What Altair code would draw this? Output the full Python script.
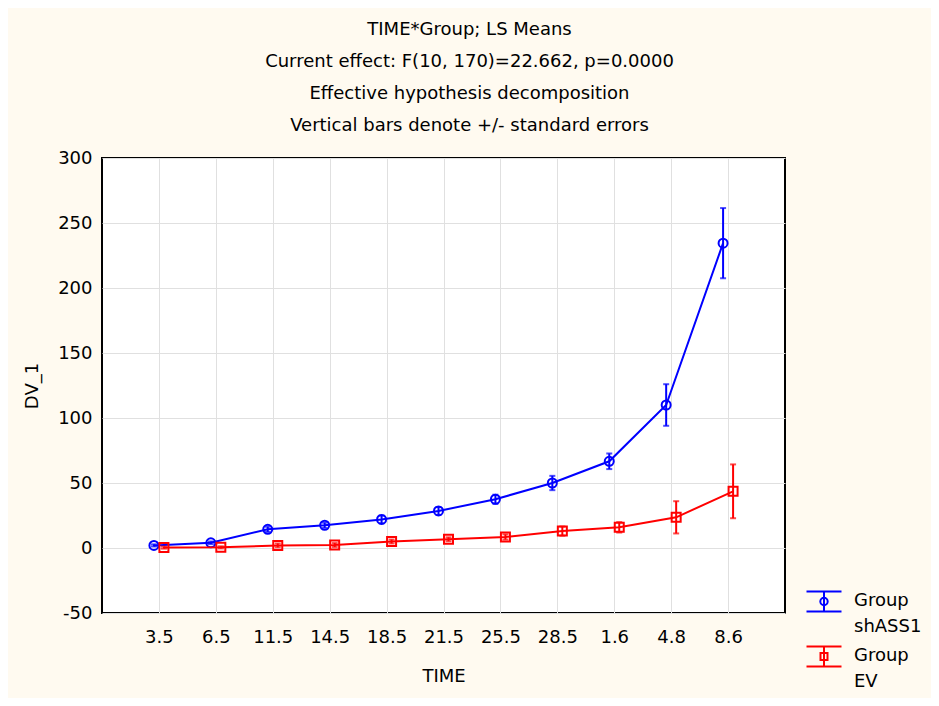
import altair as alt
import pandas as pd

times = ["3.5", "6.5", "11.5", "14.5", "18.5", "21.5", "25.5", "28.5", "1.6", "4.8", "8.6"]
sh_mean = [2, 4, 14.4, 17.5, 22, 28.5, 37.5, 50, 66.7, 110, 234.5]
sh_se = [0.8, 1, 2, 2, 3, 3, 3.5, 5.5, 6, 16, 27]
ev_mean = [0.3, 0.5, 2, 2.3, 5, 6.7, 8.5, 13, 15.9, 23.6, 43.6]
ev_se = [0.8, 0.8, 1.5, 1.5, 1.5, 1.5, 2, 3.5, 4, 12.4, 20.7]
groups = ["Group shASS1", "Group EV"]
colors = ["#0000FF", "#FF0000"]

rows = []
for g, means, ses in [(groups[0], sh_mean, sh_se), (groups[1], ev_mean, ev_se)]:
    for t, m, s in zip(times, means, ses):
        rows.append({"TIME": t, "Group": g, "mean": m, "lo": m - s, "hi": m + s})
df = pd.DataFrame(rows)

FONT = "DejaVu Sans"
FS = 18
xenc = alt.X("TIME:N", sort=times, scale=alt.Scale(type="point", padding=1),
             axis=alt.Axis(title="TIME", labelAngle=0, labelFontSize=FS, titleFontSize=FS,
                           titleFontWeight="normal", labelPadding=15, titlePadding=21,
                           ticks=False, domain=False, gridColor="#E0E0E0", grid=True,
                           labelColor="black", titleColor="black"))
yscale = alt.Scale(domain=[-50, 300], nice=False, zero=False)
yaxis = alt.Axis(title="DV_1", values=list(range(-50, 301, 50)), labelFontSize=FS,
                 labelExpr="datum.value < 0 ? '-' + abs(datum.value) : datum.label",
                 titleFontSize=FS, titleFontWeight="normal", labelPadding=10, titlePadding=16,
                 ticks=False, domain=False, gridColor="#E0E0E0", labelColor="black",
                 titleColor="black")

base = alt.Chart(df)
layers = []
for g, col, shp, off in [(groups[0], colors[0], "circle", -5), (groups[1], colors[1], "square", 5)]:
    b = base.transform_filter(alt.datum.Group == g)
    layers.append(b.mark_line(color=col, strokeWidth=2, xOffset=off).encode(
        x=xenc, y=alt.Y("mean:Q", scale=yscale, axis=yaxis)))
    layers.append(b.mark_rule(color=col, strokeWidth=2, xOffset=off).encode(
        x=xenc, y="lo:Q", y2="hi:Q"))
    layers.append(b.mark_tick(color=col, size=6, thickness=2, xOffset=off).encode(x=xenc, y="lo:Q"))
    layers.append(b.mark_tick(color=col, size=6, thickness=2, xOffset=off).encode(x=xenc, y="hi:Q"))
    layers.append(b.mark_point(color=col, shape=shp, size=81, strokeWidth=2, filled=False,
                               opacity=1, xOffset=off).encode(x=xenc, y="mean:Q"))

# legend glyphs: error-bar style symbol, shifted down to line up with the first label line
circ_sym = ("M-1.75,-0.05H1.75M-1.75,1.95H1.75M0,-0.05V1.95"
            "M0.37,0.95A0.37,0.37,0,1,1,-0.37,0.95A0.37,0.37,0,1,1,0.37,0.95")
sq_sym = "M-1.75,-0.05H1.75M-1.75,1.95H1.75M0,-0.05V1.95M-0.35,0.6H0.35V1.3H-0.35Z"

legend_layer = base.transform_filter("false").mark_point(filled=False, strokeWidth=2, opacity=1).encode(
    x=xenc,
    y="mean:Q",
    color=alt.Color("Group:N", scale=alt.Scale(domain=groups, range=colors),
                    legend=alt.Legend(orient="none", legendX=711, legendY=423, title=None,
                                      labelFontSize=FS, labelExpr="split(datum.label, ' ')",
                                      symbolSize=400, symbolStrokeWidth=2, labelOffset=19,
                                      rowPadding=-2, labelColor="black", labelBaseline="top")),
    shape=alt.Shape("Group:N", scale=alt.Scale(domain=groups, range=[circ_sym, sq_sym])),
)

chart = alt.layer(*layers, legend_layer).properties(
    width=683, height=455,
    title=alt.TitleParams(
        text=["TIME*Group; LS Means",
              "Current effect: F(10, 170)=22.662, p=0.0000",
              "Effective hypothesis decomposition",
              "Vertical bars denote +/- standard errors"],
        fontSize=FS, font=FONT, fontWeight="normal", lineHeight=32, anchor="middle",
        offset=14, dx=26, color="black"),
    background="#FFFAF0",
    padding={"left": 94, "top": 150, "right": 146, "bottom": 85},
    autosize=alt.AutoSizeParams(type="none"),
).configure(font=FONT, style={"guide-label": {"lineHeight": 26}}).configure_view(
    fill="white", stroke="black", strokeWidth=2)

chart.save("out.html", embed_options={"renderer": "svg", "actions": False})
